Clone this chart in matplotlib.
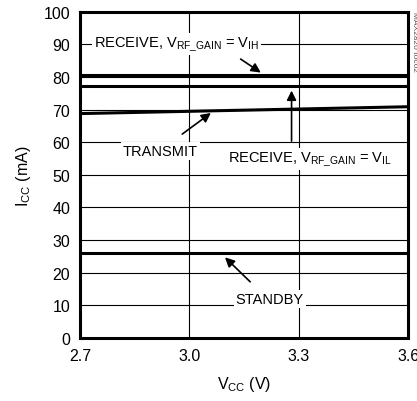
import matplotlib
matplotlib.use("Agg")
from matplotlib import pyplot as plt

plt.rcParams['font.family'] = ['Liberation Sans', 'DejaVu Sans']
plt.rcParams['mathtext.fontset'] = 'custom'
plt.rcParams['mathtext.rm'] = 'Liberation Sans'
plt.rcParams['mathtext.it'] = 'Liberation Sans'

# supply current vs supply voltage
vcc = [2.7, 3.6]
rx_vih = [80.5, 80.5]
rx_vil = [77.3, 77.3]
transmit = [68.8, 70.9]
standby = [26.1, 26.1]

xticks = [2.7, 3.0, 3.3, 3.6]
xticklabels = ['2.7', '3.0', '3.3', '3.6']
yticks = list(range(0, 101, 10))

fig = plt.figure(figsize=(4.17, 4.02), dpi=100)
ax = fig.add_axes([0.192, 0.157, 0.787, 0.811])

for y in (rx_vih, rx_vil, transmit, standby):
    ax.plot(vcc, y, color='black', lw=2.2, solid_capstyle='butt', zorder=3)

ax.set_xlim(2.7, 3.6)
ax.set_ylim(0, 100)
ax.set_xticks(xticks)
ax.set_xticklabels(xticklabels)
ax.set_yticks(yticks)
ax.grid(True, color='black', lw=0.8)
ax.tick_params(length=0, labelsize=11.5, pad=7)
for s in ax.spines.values():
    s.set_linewidth(2.2)

ax.set_xlabel(r'V$_{\mathrm{CC}}$ (V)', fontsize=11.5, labelpad=8)
ax.set_ylabel(r'I$_{\mathrm{CC}}$ (mA)', fontsize=11.5, labelpad=8)

fs = 10.5
box = dict(facecolor='white', edgecolor='none', pad=1.5)
arr = dict(arrowstyle='-|>', color='black', lw=1.2, mutation_scale=14)

ax.text(2.737, 90.2, r'RECEIVE, V$_{\mathrm{RF\_GAIN}}$ = V$_{\mathrm{IH}}$',
        fontsize=fs, va='center', ha='left', bbox=box, zorder=4)
ax.annotate('', xy=(3.202, 80.9), xytext=(3.134, 86.0), arrowprops=arr, zorder=4)

ax.text(2.92, 57.4, 'TRANSMIT', fontsize=fs, ha='center', va='center', bbox=box, zorder=4)
ax.annotate('', xy=(3.065, 69.5), xytext=(2.974, 62.0), arrowprops=arr, zorder=4)

ax.text(3.105, 55.0, r'RECEIVE, V$_{\mathrm{RF\_GAIN}}$ = V$_{\mathrm{IL}}$',
        fontsize=fs, va='center', ha='left', bbox=box, zorder=4)
ax.annotate('', xy=(3.28, 76.7), xytext=(3.28, 59.5), arrowprops=arr, zorder=4)

ax.text(3.22, 12.0, 'STANDBY', fontsize=fs, ha='center', va='center', bbox=box, zorder=4)
ax.annotate('', xy=(3.092, 25.3), xytext=(3.172, 16.6), arrowprops=arr, zorder=4)

fig.text(0.985, 0.97, 'MAX2820 toc02', rotation=270, fontsize=6, color='#555555',
         ha='left', va='top')

fig.savefig('out.png', dpi=100)
